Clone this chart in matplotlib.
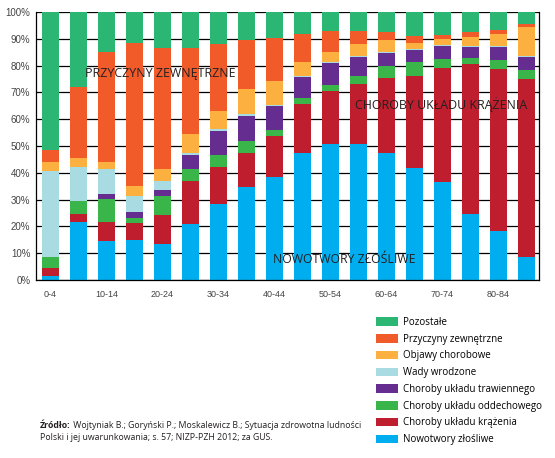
import numpy as np
import matplotlib
matplotlib.use("Agg")
import matplotlib.pyplot as plt
from matplotlib.patches import Patch

# age groups
ages = ["0-4", "5-9", "10-14", "15-19", "20-24", "25-29", "30-34", "35-39",
        "40-44", "45-49", "50-54", "55-59", "60-64", "65-69", "70-74",
        "75-79", "80-84", "85+"]

# shares in % (bottom to top)
nowotwory = [1.5, 21.5, 14.4, 15.0, 13.4, 20.9, 28.4, 34.8, 38.5, 47.5,
             50.6, 50.6, 47.5, 41.9, 36.6, 24.6, 18.4, 8.4]
krazenia = [3.0, 3.0, 7.4, 6.4, 10.9, 16.1, 13.9, 12.5, 15.4, 18.0,
            20.0, 22.4, 28.0, 34.4, 42.4, 55.9, 60.2, 66.5]
oddechowe = [4.0, 5.0, 8.5, 1.7, 7.2, 4.5, 4.2, 4.7, 1.9, 2.3,
             2.3, 3.3, 4.3, 5.0, 3.4, 2.3, 3.5, 3.4]
trawienne = [0.0, 0.0, 1.9, 2.4, 1.9, 5.0, 9.1, 9.3, 9.0, 8.0,
             8.0, 7.0, 4.8, 4.5, 5.0, 4.2, 4.8, 4.8]
wady = [32.0, 12.5, 9.4, 6.0, 3.4, 1.0, 0.6, 0.5, 0.5, 0.4,
        0.3, 0.3, 0.4, 0.4, 0.3, 0.4, 0.4, 0.4]
objawy = [3.5, 3.5, 2.5, 3.75, 4.7, 7.1, 7.0, 9.3, 8.8, 5.2,
          3.8, 4.4, 4.4, 2.3, 2.3, 3.1, 4.5, 10.8]
zewnetrzne = [4.5, 26.5, 40.9, 53.1, 45.0, 31.9, 24.9, 18.4, 16.2, 10.4,
              8.0, 4.8, 3.1, 2.5, 1.5, 2.0, 1.5, 1.3]
pozostale = [51.5, 28.0, 15.0, 11.6, 13.5, 13.5, 11.9, 10.5, 9.7, 8.2,
             7.0, 7.2, 7.5, 9.0, 8.5, 7.5, 6.7, 4.4]

series = [
    ("Nowotwory złośliwe", nowotwory, "#00aeef"),
    ("Choroby układu krążenia", krazenia, "#be1e2d"),
    ("Choroby układu oddechowego", oddechowe, "#39b54a"),
    ("Choroby układu trawiennego", trawienne, "#662d91"),
    ("Wady wrodzone", wady, "#a9dbe3"),
    ("Objawy chorobowe", objawy, "#fbb040"),
    ("Przyczyny zewnętrzne", zewnetrzne, "#f15a29"),
    ("Pozostałe", pozostale, "#2bb673"),
]

fig = plt.figure(figsize=(5.55, 4.58), dpi=100)
ax = fig.add_axes([36/555, 1-280/458, 503/555, 268/458])

x = np.arange(len(ages))
bottom = np.zeros(len(ages))
for name, vals, col in series:
    ax.bar(x, vals, 0.6, bottom=bottom, color=col, zorder=2, linewidth=0)
    bottom += np.array(vals)

ax.set_xlim(-0.52, 17.45)
ax.set_ylim(0, 100)
ax.set_yticks(range(0, 101, 10))
ax.set_yticklabels(["%d%%" % v for v in range(0, 101, 10)],
                   fontsize=7, color="#444444", family="Liberation Sans")
ax.set_xticks(x[::2])
ax.set_xticklabels(ages[::2], fontsize=6.5, color="#444444", family="Liberation Sans")
ax.tick_params(axis="y", length=0, pad=4)
ax.tick_params(axis="x", length=0, pad=7)
ax.yaxis.grid(True, color="black", linewidth=0.9, zorder=1)
ax.set_axisbelow(True)
for s in ["left", "right", "bottom"]:
    ax.spines[s].set_linewidth(0.9)
ax.spines["top"].set_visible(False)

fnt = "Open Sans"
ax.text(3.91, 77.2, "PRZYCZYNY ZEWNĘTRZNE", ha="center", va="center",
        fontsize=8.9, family=fnt, color="#231f20", zorder=3)
ax.text(13.96, 65.3, "CHOROBY UKŁADU KRĄŻENIA", ha="center", va="center",
        fontsize=8.9, family=fnt, color="#231f20", zorder=3)
ax.text(10.5, 7.5, "NOWOTWORY ZŁOŚLIWE", ha="center", va="center",
        fontsize=8.8, family=fnt, color="#231f20", zorder=3)

handles = [Patch(facecolor=col, label=name) for name, vals, col in series[::-1]]
fig.legend(handles=handles, loc="upper left", bbox_to_anchor=(376/555, 1-317/458),
           frameon=False, prop={"family": fnt, "size": 7},
           handlelength=2.3, handleheight=0.95, handletextpad=0.45,
           labelspacing=0.59, borderpad=0, borderaxespad=0)

# source note, first word in bold
src1 = " Wojtyniak B.; Goryński P.; Moskalewicz B.; Sytuacja zdrowotna ludności"
src2 = "Polski i jej uwarunkowania; s. 57; NIZP-PZH 2012; za GUS."
t0 = fig.text(40/555, 1-425/458, "Źródło:", fontsize=6.3, family=fnt,
              weight="bold", color="#231f20", va="center")
fig.canvas.draw()
bb = t0.get_window_extent()
fig.text(bb.x1/fig.bbox.width, 1-425/458, src1, fontsize=6.3, family=fnt,
         color="#231f20", va="center")
fig.text(40/555, 1-437/458, src2, fontsize=6.3, family=fnt,
         color="#231f20", va="center")

fig.savefig("out.png", dpi=100)
